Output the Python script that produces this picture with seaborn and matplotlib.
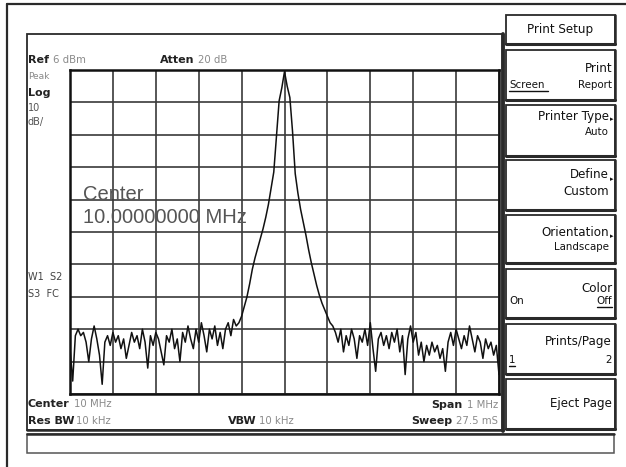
import numpy as np
import pandas as pd
import matplotlib
matplotlib.use("Agg")
import matplotlib.pyplot as plt
from matplotlib.patches import Rectangle
import seaborn as sns

# Analyzer settings
center_mhz = 10.0
span_mhz = 1.0
ref_dbm = 6
db_per_div = 10

# Trace: 161 sweep points, 6.25 kHz apart
trace_dbm = [
    -80, -90, -76, -74, -76, -75, -78, -84, -77, -73,
    -77, -82, -91, -78, -76, -79, -75, -78, -76, -80,
    -77, -83, -79, -75, -78, -76, -80, -74, -78, -86,
    -76, -79, -75, -77, -81, -85, -76, -78, -74, -80,
    -77, -84, -75, -78, -73, -77, -80, -74, -78, -72,
    -76, -81, -74, -77, -73, -79, -75, -80, -74, -72,
    -76, -71, -73, -72,
    # left skirt
    -70, -67, -64, -60, -55.5, -52, -49, -46, -43, -39.5,
    -35.5, -30.5, -25.5, -14.5, -3.5, 0.5,
    # peak
    5.5,
    # right skirt
    1, -2.5, -13, -26, -32, -37, -41, -45, -49.5, -53.5,
    -57, -60.5, -63.5, -66, -68, -70, -72,
    # right noise
    -73, -75, -78, -74, -81, -76, -79, -74, -77, -83,
    -76, -78, -74, -79, -72, -80, -87, -77, -75, -79,
    -76, -80, -75, -78, -74, -81, -76, -88, -77, -73,
    -78, -75, -82, -78, -84, -79, -82, -78, -81, -79,
    -83, -80, -87, -78, -75, -79, -74, -77, -80, -76,
    -79, -73, -77, -81, -76, -78, -83, -77, -80, -78,
    -82, -79, -88,
]
freq_mhz = np.linspace(center_mhz - span_mhz / 2, center_mhz + span_mhz / 2, len(trace_dbm))

top_labels = [("Ref", "6 dBm"), ("Atten", "20 dB")]
side_labels = ["Peak", "Log", "10", "dB/"]
bottom_labels = [("Center", "10 MHz"), ("Res BW", "10 kHz"), ("VBW", "10 kHz"),
                 ("Span", "1 MHz"), ("Sweep", "27.5 mS")]
softkeys = ["Print Setup", "Print", "Printer Type", "Define", "Orientation",
            "Color", "Prints/Page", "Eject Page"]

df = pd.DataFrame({"freq": freq_mhz, "amp": trace_dbm})

sns.set_style("white")
plt.rcParams["font.family"] = ["DejaVu Sans"]

W, H = 626, 467
fig = plt.figure(figsize=(W / 100, H / 100), dpi=100)

# background layer in pixel coordinates
bg = fig.add_axes([0, 0, 1, 1], zorder=0)
bg.set_xlim(0, W)
bg.set_ylim(H, 0)
bg.axis("off")

edge = "#2a2a2a"
gray = "#8a8a8a"

# outer frame (open at right/bottom)
bg.plot([7, W], [4, 4], color=edge, lw=1.6)
bg.plot([7, 7], [4, H], color=edge, lw=1.6)

# screen panel and message bar
bg.add_patch(Rectangle((27, 34), 476, 396, fill=False, ec=edge, lw=1.3))
bg.plot([503, 503], [34, 431], color=edge, lw=2.8)
bg.plot([27, 503], [430, 430], color=edge, lw=1.8)
bg.add_patch(Rectangle((27, 434), 587, 19, fill=False, ec="#555", lw=1.1))
bg.plot([27, 614], [434, 434], color=edge, lw=1.8)

# softkey boxes
key_rows = [(15, 44), (50, 100), (105, 156), (160, 210),
            (215, 263), (269, 318), (324, 374), (379, 429)]
for y0, y1 in key_rows:
    bg.add_patch(Rectangle((506, y0), 109, y1 - y0, fill=False, ec=edge, lw=1.3))
    bg.plot([506, 615], [y1, y1], color=edge, lw=2.2)
    bg.plot([615, 615], [y0, y1], color=edge, lw=1.8)

fig.canvas.draw()
renderer = fig.canvas.get_renderer()


def pair(x, y, bold, light, gap=4, align="left"):
    # bold caption followed by a gray value, like the analyzer annotations
    if align == "left":
        t = bg.text(x, y, bold, fontsize=8, fontweight="bold", color="#222", va="baseline")
        bb = t.get_window_extent(renderer)
        bg.text(bb.x1 + gap, H - y, light, fontsize=7.3, color=gray,
                va="baseline", transform=None)
    else:
        t = bg.text(x, y, light, fontsize=7.3, color=gray, va="baseline", ha="right")
        bb = t.get_window_extent(renderer)
        bg.text(bb.x0 - gap, H - y, bold, fontsize=8, fontweight="bold", color="#222",
                va="baseline", ha="right", transform=None)


# header lines
pair(28, 63, top_labels[0][0], top_labels[0][1])
pair(160, 63, top_labels[1][0], top_labels[1][1])
bg.text(28, 79, side_labels[0], fontsize=6.5, color=gray, va="baseline")
bg.text(28, 96, side_labels[1], fontsize=8, fontweight="bold", color="#222", va="baseline")
bg.text(28, 111, side_labels[2], fontsize=7, color="#555", va="baseline")
bg.text(28, 125, side_labels[3], fontsize=7, color="#555", va="baseline")
bg.text(28, 280, "W1  S2", fontsize=7, color="#444", va="baseline")
bg.text(28, 297, "S3  FC", fontsize=7, color="#444", va="baseline")

# footer lines
pair(28, 407, bottom_labels[0][0], bottom_labels[0][1])
pair(28, 424, bottom_labels[1][0], bottom_labels[1][1], gap=2)
pair(228, 424, bottom_labels[2][0], bottom_labels[2][1], gap=2)
pair(498, 408, bottom_labels[3][0], bottom_labels[3][1], align="right")
pair(498, 424, bottom_labels[4][0], bottom_labels[4][1], align="right")

# softkey text
kf = dict(fontsize=8.6, color="#111", va="baseline")
sf = dict(fontsize=7.4, color="#111", va="baseline")
bg.text(560, 33, softkeys[0], ha="center", **kf)
bg.text(612, 72, softkeys[1], ha="right", **kf)
bg.text(509, 88, "Screen", ha="left", **sf)
bg.plot([509, 548], [91, 91], color="#111", lw=1)
bg.text(612, 88, "Report", ha="right", **sf)
bg.text(609, 120, softkeys[2], ha="right", **kf)
bg.text(609, 135, "Auto", ha="right", **sf)
bg.text(609, 178, softkeys[3], ha="right", **kf)
bg.text(609, 195, "Custom", ha="right", **kf)
bg.text(609, 236, softkeys[4], ha="right", **kf)
bg.text(609, 250, "Landscape", ha="right", **sf)
bg.text(612, 292, softkeys[5], ha="right", **kf)
bg.text(509, 304, "On", ha="left", **sf)
bg.text(612, 304, "Off", ha="right", **sf)
bg.plot([597, 612], [307, 307], color="#111", lw=1)
bg.text(612, 345, softkeys[6], ha="right", **kf)
bg.text(509, 363, "1", ha="left", **sf)
bg.plot([509, 515], [366, 366], color="#111", lw=1)
bg.text(612, 363, "2", ha="right", **sf)
bg.text(612, 407, softkeys[7], ha="right", **kf)
for ya in (119, 179, 236):
    bg.text(610, ya, "\u25b8", fontsize=5, color="#111", va="center")

# graticule axes
gl, gr, gt, gb = 70, 499, 70, 394
ax = fig.add_axes([gl / W, 1 - gb / H, (gr - gl) / W, (gb - gt) / H], zorder=2)
sns.lineplot(data=df, x="freq", y="amp", ax=ax, color="#111", lw=1.1, zorder=3)
ax.set_xlim(center_mhz - span_mhz / 2, center_mhz + span_mhz / 2)
ax.set_ylim(ref_dbm - 10 * db_per_div, ref_dbm)
ax.set_xticks(np.linspace(center_mhz - span_mhz / 2, center_mhz + span_mhz / 2, 11))
ax.set_yticks(np.arange(ref_dbm - 10 * db_per_div, ref_dbm + 1, db_per_div))
ax.grid(True, color="#3a3a3a", lw=1.2)
ax.tick_params(length=0, labelbottom=False, labelleft=False)
ax.set_xlabel("")
ax.set_ylabel("")
for s in ax.spines.values():
    s.set_color("#111")
    s.set_linewidth(1.8)
ax.patch.set_alpha(0)

# center frequency readout over the graticule
big = dict(transform=ax.transAxes, fontsize=14.5, color="#555", va="baseline",
           family=["Liberation Sans", "DejaVu Sans"])
ax.text(0.031, 0.599, "Center", **big)
ax.text(0.031, 0.528, "10.00000000 MHz", **big)

fig.savefig("out.png", dpi=100)
